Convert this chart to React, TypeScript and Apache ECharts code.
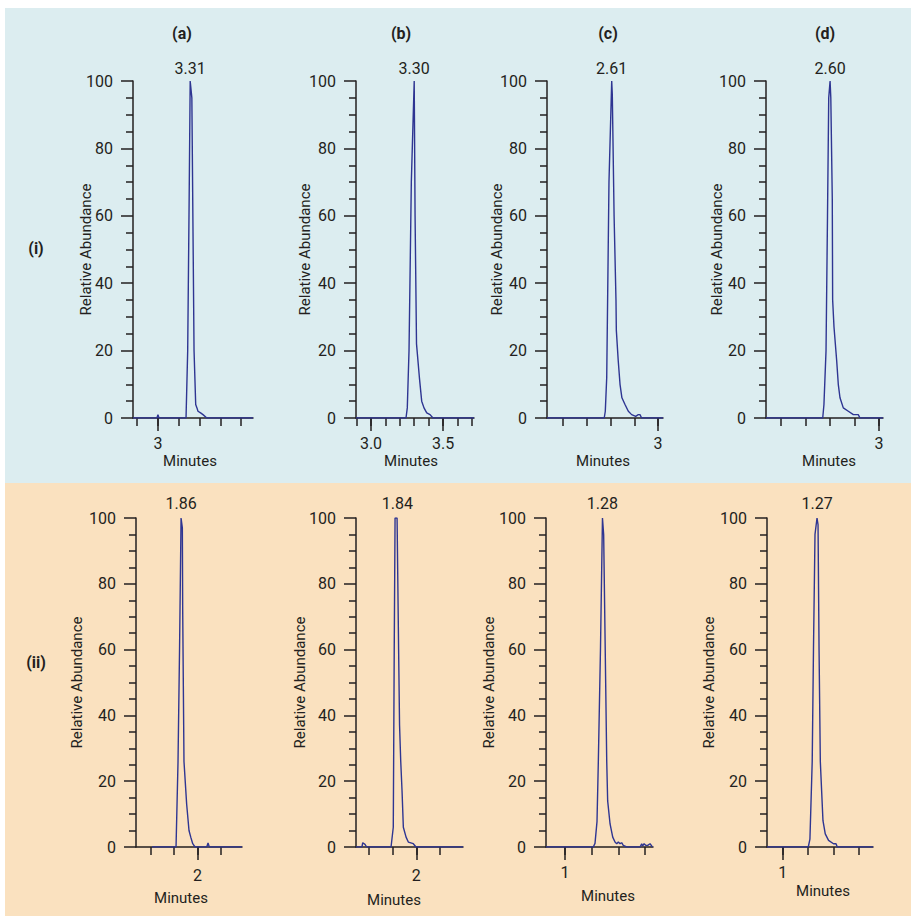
import React, { useEffect, useRef } from "react";
import * as echarts from "echarts";

const FONT = "Roboto, 'Liberation Sans', sans-serif";
const TEXT = "#231f20";
const TRACE = "#2e3592";

// ---- data: retention time (min) and relative abundance (%) per panel ----
const timeIA = [2.76, 2.99, 3.0, 3.01, 3.27, 3.286, 3.3, 3.31, 3.326, 3.347, 3.363, 3.375, 3.385, 3.41, 3.433, 3.47, 3.914];
const abundIA = [0, 0, 1, 0, 0, 20, 65, 100, 95, 20, 4, 3, 2, 1.5, 1, 0, 0];

const timeIB = [2.896, 3.243, 3.252, 3.264, 3.28, 3.3, 3.306, 3.316, 3.336, 3.352, 3.368, 3.387, 3.41, 3.43, 3.715];
const abundIB = [0, 0, 3, 20, 70, 100, 60, 22, 12, 5, 3, 1.5, 1, 0, 0];

const timeIC = [2.065, 2.547, 2.556, 2.568, 2.587, 2.61, 2.615, 2.63, 2.646, 2.649, 2.665, 2.68, 2.696, 2.722, 2.75, 2.778, 2.812, 2.834, 2.848, 2.862, 3.042];
const abundIC = [0, 0, 2, 12, 70, 100, 96, 60, 35, 26, 17, 10, 6, 4, 2, 1, 0.5, 1, 1, 0, 0];

const timeID = [2.077, 2.54, 2.55, 2.567, 2.579, 2.589, 2.6, 2.606, 2.618, 2.621, 2.632, 2.654, 2.667, 2.681, 2.708, 2.749, 2.79, 2.83, 2.844, 3.032];
const abundID = [0, 0, 4, 20, 60, 95, 100, 95, 65, 35, 27, 17, 10, 6, 3, 2, 1, 1, 0, 0];

const timeIIA = [1.611, 1.817, 1.834, 1.847, 1.86, 1.871, 1.874, 1.885, 1.908, 1.928, 1.943, 1.96, 1.98, 2.08, 2.091, 2.102, 2.382];
const abundIIA = [0, 0, 26, 60, 100, 97, 72, 26, 13, 5, 3, 1, 0, 0, 1.2, 0, 0];

const timeIIB = [1.49, 1.54, 1.547, 1.566, 1.58, 1.786, 1.805, 1.813, 1.82, 1.837, 1.85, 1.858, 1.868, 1.879, 1.89, 1.913, 1.932, 1.974, 1.997, 2.394];
const abundIIB = [0, 0, 1.3, 0.8, 0, 0, 6, 60, 100, 100, 60, 37, 26, 17, 6, 3, 1.5, 1, 0, 0];

const timeIIC = [0.8575, 1.212, 1.225, 1.24, 1.25, 1.266, 1.281, 1.29, 1.305, 1.313, 1.32, 1.338, 1.358, 1.375, 1.388, 1.4, 1.413, 1.425, 1.437, 1.463, 1.563, 1.575, 1.582, 1.593, 1.605, 1.62, 1.638, 1.655, 1.66];
const abundIIC = [0, 0, 1.1, 7.7, 26, 60, 100, 95, 50, 26, 14, 7, 3, 1.5, 1, 1.5, 1, 1.3, 0.5, 0, 0, 1, 0.3, 1, 0.5, 0.5, 1, 0, 0];

const timeIID = [0.875, 1.201, 1.214, 1.232, 1.242, 1.254, 1.27, 1.278, 1.286, 1.296, 1.317, 1.335, 1.361, 1.4, 1.42, 1.43, 1.712];
const abundIID = [0, 0, 2.4, 26, 60, 95, 100, 98, 60, 26, 8, 4, 2, 1, 1, 0, 0];

const peakTimes = [3.31, 3.3, 2.61, 2.6, 1.86, 1.84, 1.28, 1.27];
const columnTitles = ["(a)", "(b)", "(c)", "(d)"];
const rowTitles = ["(i)", "(ii)"];

// tick labels / tick marks on the time axes
const majorTicks = [[3], [3.0, 3.5], [3], [3], [2], [2], [1], [1]];
const minorTicks = [
  [2.8, 3.0, 3.2, 3.4, 3.6, 3.8],
  [2.9, 3.0, 3.1, 3.2, 3.3, 3.4, 3.5, 3.6, 3.7],
  [2.2, 2.4, 2.6, 2.8, 3.0],
  [2.2, 2.4, 2.6, 2.8, 3.0],
  [1.6, 1.8, 2.0, 2.2],
  [1.6, 1.8, 2.0, 2.2],
  [1.0, 1.2, 1.4, 1.6],
  [1.0, 1.2, 1.4, 1.6],
];
const tickDecimals = [0, 1, 0, 0, 0, 0, 0, 0];

const TIMES = [timeIA, timeIB, timeIC, timeID, timeIIA, timeIIB, timeIIC, timeIID];
const ABUND = [abundIA, abundIB, abundIC, abundID, abundIIA, abundIIB, abundIIC, abundIID];

// ---- layout (pixels) ----
const LAYOUT = [
  { left: 133, top: 81, width: 120, height: 337, min: 2.76, max: 3.914, yGap: 39.5, nGap: 35, nDx: -3, lm: 17, pd: 4 },
  { left: 356, top: 81, width: 118, height: 337, min: 2.896, max: 3.715, yGap: 43.5, nGap: 35, nDx: -4, lm: 17, pd: 4 },
  { left: 547, top: 81, width: 116, height: 337, min: 2.065, max: 3.042, yGap: 42.5, nGap: 35, nDx: -2, lm: 17, pd: 4 },
  { left: 766, top: 81, width: 117, height: 337, min: 2.077, max: 3.032, yGap: 41.5, nGap: 35, nDx: 4.5, lm: 17, pd: 4 },
  { left: 136, top: 518, width: 106, height: 329, min: 1.474, max: 2.382, yGap: 51.5, nGap: 43, nDx: -8, lm: 20, pd: 6 },
  { left: 356, top: 518, width: 107, height: 329, min: 1.49, max: 2.394, yGap: 48.5, nGap: 45, nDx: -15.5, lm: 20, pd: 6 },
  { left: 546, top: 518, width: 107, height: 329, min: 0.8575, max: 1.66, yGap: 49.5, nGap: 41, nDx: 8.5, lm: 17, pd: 6 },
  { left: 767, top: 518, width: 106, height: 329, min: 0.875, max: 1.712, yGap: 50.5, nGap: 36, nDx: 3, lm: 17, pd: 6 },
];
const COL_X = [182, 401, 608, 825];
const ROW_Y = [248, 662];

function buildOption() {
  const grid: any[] = [];
  const xAxis: any[] = [];
  const yAxis: any[] = [];
  const series: any[] = [];
  const lineStyle = { color: TEXT, width: 1.5 };
  const txt = { color: TEXT, fontFamily: FONT, fontSize: 16 };
  const nameTxt = { color: TEXT, fontFamily: FONT, fontSize: 15 };

  LAYOUT.forEach((L, k) => {
    grid.push({
      left: L.left, top: L.top, width: L.width, height: L.height,
      containLabel: false, outerBoundsMode: "none", show: false,
    });
    const dec = tickDecimals[k];
    const pad = L.nDx >= 0 ? [0, 0, 0, 2 * L.nDx] : [0, -2 * L.nDx, 0, 0];
    // main time axis: line, long ticks, labels, name
    xAxis.push({
      type: "value", gridIndex: k, position: "bottom", min: L.min, max: L.max,
      axisLine: { show: true, onZero: false, lineStyle },
      axisTick: { show: true, length: 13, customValues: majorTicks[k], lineStyle },
      minorTick: { show: false },
      axisLabel: {
        show: true, customValues: majorTicks[k], margin: L.lm, ...txt,
        formatter: (v: number) => v.toFixed(dec),
      },
      splitLine: { show: false },
      name: "Minutes", nameLocation: "middle", nameGap: L.nGap, nameMoveOverlap: false,
      nameTextStyle: { ...nameTxt, padding: pad },
    });
    // secondary time axis: short ticks only
    xAxis.push({
      type: "value", gridIndex: k, position: "bottom", min: L.min, max: L.max,
      axisLine: { show: false, onZero: false },
      axisTick: { show: true, length: 8, customValues: minorTicks[k], lineStyle },
      axisLabel: { show: false },
      splitLine: { show: false },
    });
    yAxis.push({
      type: "value", gridIndex: k, min: 0, max: 100, interval: 20,
      axisLine: { show: true, onZero: false, lineStyle },
      axisTick: { show: true, length: 12, lineStyle },
      minorTick: { show: true, splitNumber: 4, length: 7, lineStyle },
      axisLabel: { show: true, margin: 20, ...txt },
      splitLine: { show: false },
      minorSplitLine: { show: false },
      name: "Relative Abundance", nameLocation: "middle", nameGap: L.yGap, nameMoveOverlap: false,
      nameTextStyle: { ...nameTxt },
    });
    const pk = peakTimes[k];
    series.push({
      type: "line",
      xAxisIndex: 2 * k, yAxisIndex: k,
      data: TIMES[k].map((t, i) => [t, ABUND[k][i]]),
      showSymbol: false, silent: true,
      lineStyle: { color: TRACE, width: 1.4 },
      markPoint: {
        silent: true,
        symbol: "circle", symbolSize: 1,
        itemStyle: { color: "rgba(0,0,0,0)" },
        label: {
          show: true, position: "top", distance: L.pd, ...txt,
          formatter: () => pk.toFixed(2),
        },
        data: [{ coord: [pk, 100] }],
      },
    });
  });

  const graphic: any[] = [
    { type: "rect", z: -100, silent: true, shape: { x: 5, y: 8, width: 906, height: 475 }, style: { fill: "#dcedf0" } },
    { type: "rect", z: -100, silent: true, shape: { x: 5, y: 483, width: 906, height: 433 }, style: { fill: "#fae1bf" } },
  ];
  columnTitles.forEach((t, i) => {
    graphic.push({
      type: "text", x: COL_X[i], y: 33, silent: true,
      style: { text: t, fill: TEXT, font: `bold 16px ${FONT}`, align: "center", verticalAlign: "middle", textAlign: "center", textVerticalAlign: "middle" },
    });
  });
  rowTitles.forEach((t, i) => {
    graphic.push({
      type: "text", x: 36, y: ROW_Y[i], silent: true,
      style: { text: t, fill: TEXT, font: `bold 16px ${FONT}`, align: "center", verticalAlign: "middle", textAlign: "center", textVerticalAlign: "middle" },
    });
  });

  return {
    animation: false,
    backgroundColor: "#ffffff",
    textStyle: { fontFamily: FONT },
    grid, xAxis, yAxis, series, graphic,
  };
}

export default function App() {
  const ref = useRef<HTMLDivElement>(null);
  useEffect(() => {
    if (!ref.current) return;
    const chart = echarts.init(ref.current, undefined, { renderer: "svg" });
    chart.setOption(buildOption() as any);
    return () => chart.dispose();
  }, []);
  return (
    <div
      ref={ref}
      style={{ position: "fixed", left: 0, top: 0, width: 911, height: 916 }}
    />
  );
}
